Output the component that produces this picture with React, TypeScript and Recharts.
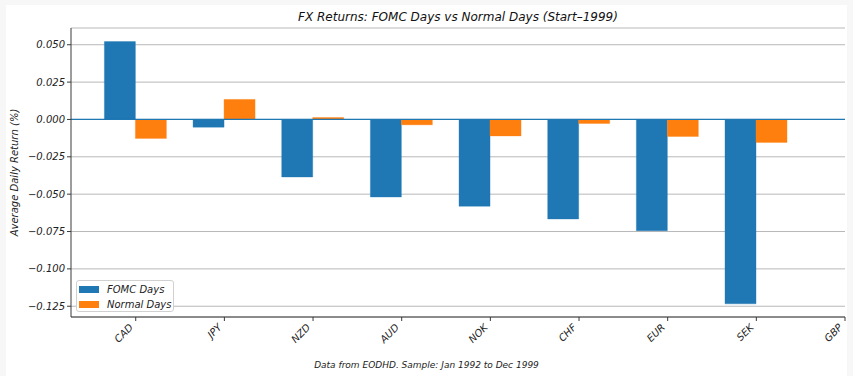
import { BarChart, Bar, XAxis, YAxis, CartesianGrid, ReferenceLine, Legend } from 'recharts'

const currencies = ['CAD', 'JPY', 'NZD', 'AUD', 'NOK', 'CHF', 'EUR', 'SEK', 'GBP']
const fomcDays: (number | null)[] = [0.0521, -0.0052, -0.0385, -0.0519, -0.0581, -0.0666, -0.0744, -0.1234, null]
const normalDays: (number | null)[] = [-0.0127, 0.0134, 0.0013, -0.0036, -0.011, -0.0027, -0.0114, -0.0154, null]
const yTicks = [-0.125, -0.1, -0.075, -0.05, -0.025, 0, 0.025, 0.05]
const xTicks = currencies.map((_, i) => i)

const data = currencies
  .map((name, i) => ({ idx: i, name, fomc: fomcDays[i], normal: normalDays[i] }))
  .filter((d) => d.fomc != null)

const FONT = '"DejaVu Sans", sans-serif'
const AXIS = '#3a3a3a'

const fmtY = (v: number) => v.toFixed(3).replace('-', '\u2212')

function XTick({ x, y, payload }: any) {
  return (
    <text
      x={x - 2}
      y={y + 5}
      transform={`rotate(-45 ${x - 2} ${y + 5})`}
      textAnchor="end"
      fontSize={10}
      fontStyle="italic"
      fontFamily={FONT}
      fill="#222"
    >
      {currencies[payload.value]}
    </text>
  )
}

function LegendBox({ payload }: any) {
  return (
    <div
      style={{
        width: 98,
        height: 32,
        boxSizing: 'border-box',
        border: '1px solid #d0d0d0',
        borderRadius: 3,
        background: '#fff',
        paddingTop: 1,
        fontFamily: FONT,
        fontSize: 10,
        fontStyle: 'italic',
        color: '#222',
      }}
    >
      {(payload || []).map((p: any) => (
        <div key={p.value} style={{ display: 'flex', alignItems: 'center', height: 15 }}>
          <span style={{ display: 'inline-block', width: 20, height: 7, marginLeft: 2, marginRight: 8, background: p.color }} />
          <span>{p.value}</span>
        </div>
      ))}
    </div>
  )
}

export default function App() {
  return (
    <div style={{ position: 'absolute', left: 0, top: 0, width: 853, height: 376, background: '#f7f7f7' }}>
      <div style={{ position: 'absolute', left: 6, top: 5, width: 841, height: 371, background: '#fff' }} />
      <div
        style={{
          position: 'absolute',
          left: 71,
          width: 774,
          top: 10,
          textAlign: 'center',
          fontFamily: FONT,
          fontSize: 12,
          fontStyle: 'italic',
          lineHeight: '14px',
          color: '#111',
        }}
      >
        FX Returns: FOMC Days vs Normal Days (Start–1999)
      </div>
      <div style={{ position: 'absolute', left: 0, top: 0 }}>
        <BarChart
          width={853}
          height={376}
          data={data}
          barGap={0}
          margin={{ top: 28, right: 8, bottom: 9, left: 11 }}
        >
          <CartesianGrid vertical={false} stroke="#b8b8b8" />
          <XAxis
            dataKey="idx"
            type="number"
            domain={[-0.73, 8]}
            allowDataOverflow
            ticks={xTicks}
            interval={0}
            height={50}
            tick={<XTick />}
            tickSize={4}
            stroke={AXIS}
          />
          <XAxis xAxisId="top" orientation="top" height={0} tick={false} tickLine={false} stroke={AXIS} />
          <YAxis
            type="number"
            domain={[-0.1322, 0.0612]}
            allowDataOverflow
            ticks={yTicks}
            tickFormatter={fmtY}
            width={60}
            tickSize={4}
            stroke={AXIS}
            tick={{ fontSize: 10, fontStyle: 'italic', fontFamily: FONT, fill: '#222' }}
            label={{
              value: 'Average Daily Return (%)',
              angle: -90,
              position: 'insideLeft',
              dx: -2,
              style: { fontSize: 10, fontStyle: 'italic', fontFamily: FONT, fill: '#222', textAnchor: 'middle' },
            }}
          />
          <YAxis yAxisId="right" orientation="right" width={0} tick={false} tickLine={false} stroke={AXIS} />
          <ReferenceLine y={0} stroke="#1f77b4" strokeWidth={1.2} />
          <Bar dataKey="fomc" name="FOMC Days" fill="#1f77b4" stroke="#1f77b4" strokeOpacity={0.35} barSize={31} isAnimationActive={false} />
          <Bar dataKey="normal" name="Normal Days" fill="#ff7f0e" stroke="#ff7f0e" strokeOpacity={0.35} barSize={31} isAnimationActive={false} />
          <Legend
            layout="vertical"
            align="center"
            verticalAlign="middle"
            content={<LegendBox />}
            wrapperStyle={{ left: 76, top: 280, width: 98, height: 32 }}
          />
        </BarChart>
      </div>
      <div
        style={{
          position: 'absolute',
          left: 0,
          width: 853,
          top: 359,
          textAlign: 'center',
          fontFamily: FONT,
          fontSize: 9,
          fontStyle: 'italic',
          lineHeight: '12px',
          color: '#222',
        }}
      >
        Data from EODHD. Sample: Jan 1992 to Dec 1999
      </div>
    </div>
  )
}
